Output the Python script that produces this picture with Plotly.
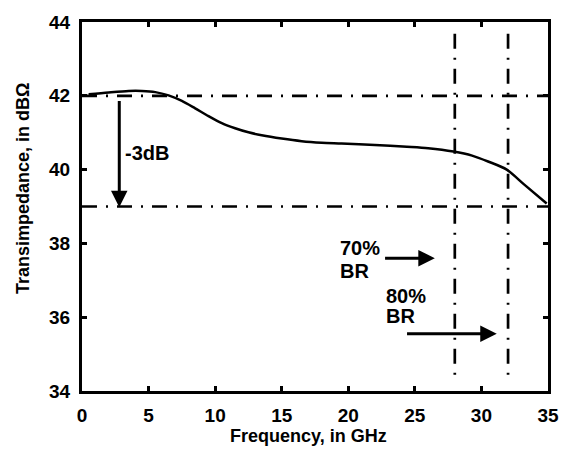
import plotly.graph_objects as go

# Curve data (frequency in GHz, transimpedance in dBOhm)
freq = [0.5, 2, 3.5, 4.5, 5.5, 6.5, 7.5, 8.5, 9.5, 10.5, 11.5, 12.5, 13.5, 15, 16.5, 18, 19.5,
        22, 24.4, 26, 27.9, 29.3, 30.5, 31.9, 33.2, 34.9]
zt = [42.04, 42.09, 42.13, 42.13, 42.10, 42.01, 41.86, 41.66, 41.45, 41.26, 41.12, 41.01, 40.93,
      40.84, 40.77, 40.73, 40.71, 40.67, 40.62, 40.58, 40.49, 40.38, 40.22, 40.0, 39.6, 39.08]

x_ticks = [0, 5, 10, 15, 20, 25, 30, 35]
y_ticks = [34, 36, 38, 40, 42, 44]

h_levels = [42, 39]          # 0 dB reference and -3 dB level
v_levels = [28, 32]          # 70% and 80% bit-rate frequencies

FONT = "Liberation Sans, Arial, sans-serif"

fig = go.Figure()
fig.add_trace(go.Scatter(x=freq, y=zt, mode="lines",
                         line=dict(color="black", width=2.5, shape="spline", smoothing=0.8),
                         showlegend=False, hoverinfo="skip"))

dash = "15px,9px,2px,9px"
for h in h_levels:
    fig.add_shape(type="line", xref="x", yref="y", x0=0, x1=35, y0=h, y1=h,
                  line=dict(color="black", width=2.7, dash=dash), layer="below")
for v in v_levels:
    fig.add_shape(type="line", xref="x", yref="y", x0=v, x1=v, y0=43.68, y1=34.28,
                  line=dict(color="black", width=2.7, dash=dash), layer="below")

def arrow(x_tip, y_tip, x_tail, y_tail):
    fig.add_annotation(x=x_tip, y=y_tip, ax=x_tail, ay=y_tail, xref="x", yref="y",
                       axref="x", ayref="y", text="", showarrow=True, arrowhead=2,
                       arrowsize=1.1, arrowwidth=3, arrowcolor="black")

arrow(2.8, 38.98, 2.8, 41.9)
arrow(26.5, 37.6, 22.65, 37.6)
arrow(31.15, 35.55, 24.3, 35.55)

afont = dict(family=FONT, size=20, color="black", weight="bold")
def label(x, y, t):
    fig.add_annotation(x=x, y=y, xref="x", yref="y", text=t, showarrow=False,
                       xanchor="left", yanchor="middle", font=afont)

label(3.1, 40.44, "-3dB")
label(19.2, 37.87, "70%")
label(19.2, 37.25, "BR")
label(22.7, 36.58, "80%")
label(22.7, 36.02, "BR")

tfont = dict(family=FONT, size=18, color="black", weight="bold")
kfont = dict(family=FONT, size=19, color="black", weight="bold")
fig.add_annotation(x=0.487, y=-0.1227, xref="paper", yref="paper", text="Frequency, in GHz",
                   showarrow=False, xanchor="center", yanchor="middle", font=tfont)
fig.add_annotation(x=-0.126, y=0.548, xref="paper", yref="paper", text="Transimpedance, in dBΩ",
                   showarrow=False, xanchor="center", yanchor="middle", textangle=-90, font=tfont)

axis_common = dict(showline=True, linecolor="black", linewidth=3, mirror="ticks",
                   ticks="inside", ticklen=5, tickwidth=2.5, tickcolor="black",
                   showgrid=False, zeroline=False, tickfont=kfont)
fig.update_xaxes(range=[0, 35], tickvals=x_ticks, ticklabelstandoff=5, **axis_common)
fig.update_yaxes(range=[34, 44], tickvals=y_ticks, ticklabelstandoff=5, **axis_common)

fig.update_layout(width=571, height=449, margin=dict(l=82, r=13, t=15, b=58),
                  plot_bgcolor="white", paper_bgcolor="white", showlegend=False)

fig.write_html("out.html", config={"displayModeBar": False},
               post_script="document.body.style.margin='0';document.body.style.overflow='hidden';")
